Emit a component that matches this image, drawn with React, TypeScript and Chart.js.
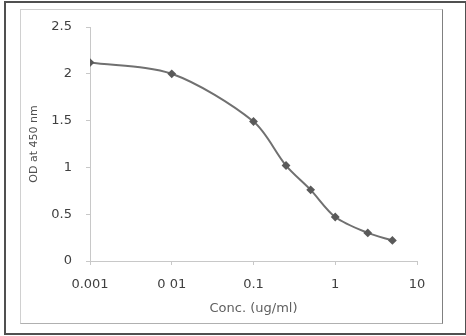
import React, { useEffect, useRef } from "react";
import { Chart, registerables } from "chart.js";

Chart.register(...registerables);

const concentrations = [0.001, 0.01, 0.1, 0.25, 0.5, 1, 2.5, 5];
const odValues = [2.12, 2.0, 1.49, 1.02, 0.76, 0.47, 0.3, 0.22];
const xTickValues = [0.001, 0.01, 0.1, 1, 10];
const xTickLabels = ["0.001", "0 01", "0.1", "1", "10"];
const yTickValues = [0, 0.5, 1, 1.5, 2, 2.5];
const xTitle = "Conc. (ug/ml)";
const yTitle = "OD at 450 nm";

export default function App() {
  const ref = useRef<HTMLCanvasElement | null>(null);

  useEffect(() => {
    if (!ref.current) return;
    const font = "'DejaVu Sans', sans-serif";
    const chart = new Chart(ref.current, {
      type: "line",
      data: {
        datasets: [
          {
            data: concentrations.map((x, i) => ({ x, y: odValues[i] })),
            borderColor: "#707070",
            borderWidth: 2,
            backgroundColor: "#5a5a5a",
            pointBackgroundColor: "#5a5a5a",
            pointBorderColor: "#5a5a5a",
            pointRadius: 3,
            pointStyle: "rectRot",
            tension: 0.3,
            fill: false,
          },
        ],
      },
      options: {
        animation: false,
        responsive: false,
        maintainAspectRatio: false,
        layout: { padding: { top: 27, right: 49, left: 0, bottom: 0 } },
        plugins: { legend: { display: false }, tooltip: { enabled: false } },
        scales: {
          x: {
            type: "logarithmic",
            min: 0.001,
            max: 10,
            afterBuildTicks: (axis: any) => {
              axis.ticks = xTickValues.map((v) => ({ value: v }));
            },
            afterFit: (axis: any) => {
              axis.height = 75;
            },
            border: { display: true, color: "#c8c8c8", width: 1 },
            grid: { drawOnChartArea: false, drawTicks: true, tickLength: 4, color: "#c8c8c8" },
            ticks: {
              autoSkip: false,
              maxRotation: 0,
              padding: 12,
              color: "#404040",
              font: { family: font, size: 13 },
              callback: (v: any) => {
                const i = xTickValues.findIndex((t) => Math.abs(Math.log10(t) - Math.log10(Number(v))) < 1e-6);
                return i >= 0 ? xTickLabels[i] : "";
              },
            },
            title: {
              display: true,
              text: xTitle,
              color: "#606060",
              font: { family: font, size: 13 },
              padding: { top: 20, bottom: 20 },
            },
          },
          y: {
            min: 0,
            max: 2.5,
            afterBuildTicks: (axis: any) => {
              axis.ticks = yTickValues.map((v) => ({ value: v }));
            },
            afterFit: (axis: any) => {
              axis.width = 90;
            },
            border: { display: true, color: "#c8c8c8", width: 1 },
            grid: { drawOnChartArea: false, drawTicks: true, tickLength: 4, color: "#c8c8c8" },
            ticks: {
              padding: 14,
              color: "#404040",
              font: { family: font, size: 13 },
              callback: (v: any) => String(v),
            },
            title: {
              display: true,
              text: yTitle,
              color: "#505050",
              font: { family: font, size: 11 },
              padding: { top: 28, bottom: 28 },
            },
          },
        },
      },
    });
    return () => chart.destroy();
  }, []);

  return (
    <div
      style={{
        position: "fixed",
        left: 0,
        top: 0,
        width: 466,
        height: 336,
        background: "#ffffff",
        overflow: "hidden",
      }}
    >
      <div
        style={{
          position: "absolute",
          left: 4,
          top: 1,
          width: 459,
          height: 330,
          border: "2px solid #505050",
        }}
      />
      <div
        style={{
          position: "absolute",
          left: 20,
          top: 9,
          width: 421,
          height: 313,
          borderTop: "1px solid #d0d0d0",
          borderLeft: "1px solid #d0d0d0",
          borderBottom: "1px solid #b0b0b0",
          borderRight: "1px solid #808080",
        }}
      />
      <canvas ref={ref} width={466} height={336} style={{ position: "absolute", left: 0, top: 0 }} />
    </div>
  );
}
